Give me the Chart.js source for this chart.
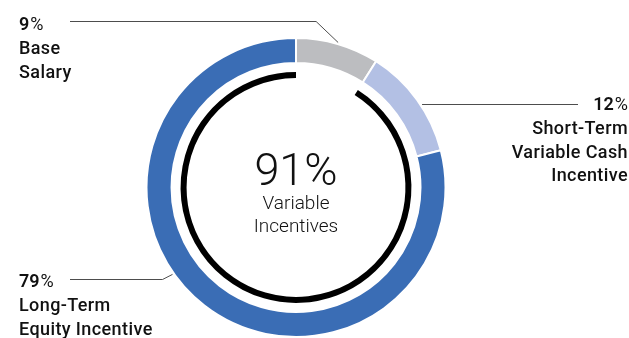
<!DOCTYPE html>
<html>
<head>
<meta charset="utf-8">
<script src="https://cdn.jsdelivr.net/npm/chart.js@4.4.1/dist/chart.umd.min.js"></script>
<style>
  html, body { margin: 0; padding: 0; background: #fff; }
  #wrap { width: 629px; height: 338px; position: relative; }
</style>
</head>
<body>
<div id="wrap"><canvas id="payChart"></canvas></div>
<script>
const categories = ['Base Salary', 'Short-Term Variable Cash Incentive', 'Long-Term Equity Incentive'];
const shares = [9, 12, 79];
const colors = ['#bcbdc0', '#b3c0e4', '#3a6db5'];
// label lines as drawn in the picture
const labelLines = [
    ['Base', 'Salary'],
    ['Short-Term', 'Variable Cash', 'Incentive'],
    ['Long-Term', 'Equity Incentive']
];
const variableShare = shares[1] + shares[2];

const FONT = 'Roboto, "Noto Sans", sans-serif';

const labelPlugin = {
    id: 'labels',
    afterDraw(chart) {
        const c = chart.ctx;
        const arcs = chart.getDatasetMeta(0).data;
        const cx = arcs[0].x, cy = arcs[0].y;
        const R = arcs[0].outerRadius + 1.5;
        const frac = [0.5, 0.56, 0.56];
        const anchor = i => {
            const a = arcs[i].startAngle + (arcs[i].endAngle - arcs[i].startAngle) * frac[i];
            return [cx + Math.cos(a) * R, cy + Math.sin(a) * R];
        };

        c.save();
        c.strokeStyle = '#4d4d4d';
        c.lineWidth = 1;

        // base salary leader
        let p = anchor(0);
        c.beginPath();
        c.moveTo(p[0], p[1]);
        c.lineTo(p[0] - 22, 21.5);
        c.lineTo(70, 21.5);
        c.stroke();

        // short-term leader
        p = anchor(1);
        c.beginPath();
        c.moveTo(p[0], Math.round(p[1]) + 0.5);
        c.lineTo(578, Math.round(p[1]) + 0.5);
        c.stroke();

        // long-term leader
        p = anchor(2);
        c.beginPath();
        c.moveTo(p[0], p[1]);
        c.lineTo(p[0] - 10, 279.5);
        c.lineTo(70, 279.5);
        c.stroke();

        const drawPct = (val, x, y, align) => {
            c.textBaseline = 'alphabetic';
            c.font = '600 18px ' + FONT;
            const num = String(val);
            const wNum = c.measureText(num).width;
            c.font = '400 18px ' + FONT;
            const wPct = c.measureText('%').width + 1;
            let x0 = align === 'right' ? x - wNum - wPct : x;
            c.textAlign = 'left';
            c.font = '600 18px ' + FONT;
            c.fillText(num, x0, y);
            c.font = '400 18px ' + FONT;
            c.fillText('%', x0 + wNum + 1, y);
        };
        const drawLines = (lines, x, y, align) => {
            c.font = '500 18px ' + FONT;
            c.letterSpacing = '0.4px';
            c.textAlign = align;
            lines.forEach((t, k) => c.fillText(t, x, y + k * 23.5));
            c.letterSpacing = '0px';
        };

        c.fillStyle = '#111';
        drawPct(shares[0], 19, 30, 'left');
        drawLines(labelLines[0], 19, 54, 'left');

        drawPct(shares[1], 628, 110, 'right');
        drawLines(labelLines[1], 628, 134, 'right');

        drawPct(shares[2], 19, 287, 'left');
        drawLines(labelLines[2], 19, 311, 'left');

        // centre text
        c.textAlign = 'center';
        c.font = '300 45px ' + FONT;
        c.fillText(variableShare + '%', cx, 185);
        c.font = '300 19px ' + FONT;
        c.fillText('Variable', cx, 209);
        c.fillText('Incentives', cx, 232);
        c.restore();
    }
};

new Chart(document.getElementById('payChart'), {
    type: 'doughnut',
    data: {
        labels: categories,
        datasets: [{
            data: shares,
            backgroundColor: colors,
            borderColor: '#ffffff',
            borderWidth: 2,
            weight: 25
        }, {
            // spacer ring
            data: [100],
            backgroundColor: 'rgba(0,0,0,0)',
            borderWidth: 0,
            weight: 9
        }, {
            data: [shares[0], variableShare],
            backgroundColor: ['rgba(0,0,0,0)', '#000000'],
            borderWidth: 0,
            weight: 6
        }]
    },
    options: {
        responsive: true,
        maintainAspectRatio: false,
        animation: false,
        cutout: '73.2%',
        layout: {
            padding: { left: 145.5, right: 182.5, top: 37, bottom: 0 }
        },
        plugins: {
            legend: { display: false },
            tooltip: { enabled: false }
        }
    },
    plugins: [labelPlugin]
});
</script>
</body>
</html>
